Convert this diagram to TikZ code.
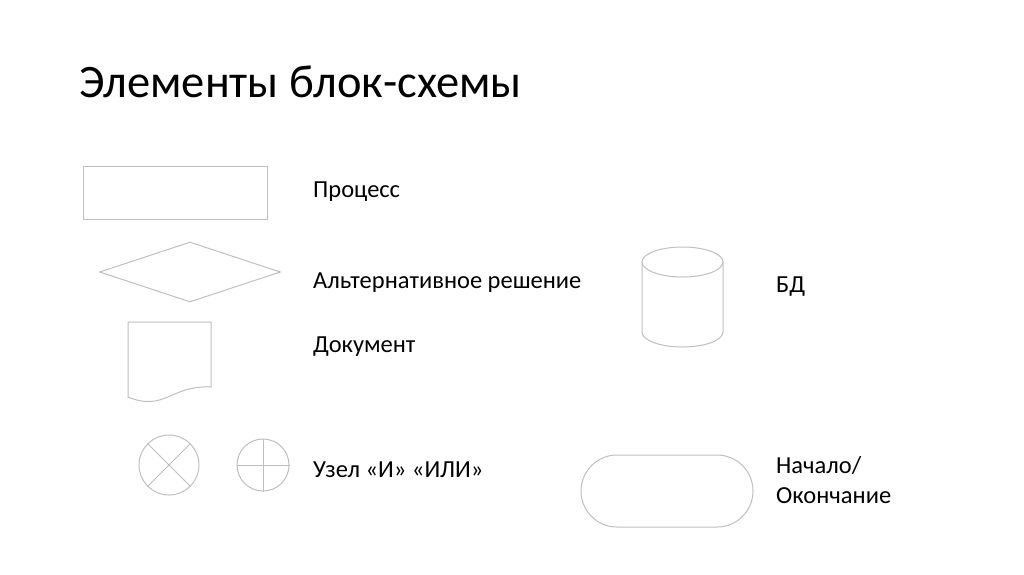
\documentclass[tikz,border=0pt]{standalone}
\usepackage{fontspec}
\setmainfont{Carlito}
\usetikzlibrary{shapes.geometric,shapes.misc}
\begin{document}
\begin{tikzpicture}[x=1pt,y=-1pt,
  shp/.style={draw=shapegrey,line width=1pt},
  lbl/.style={anchor=base west,inner sep=0pt,font=\fontsize{24.5}{30}\selectfont}]
\definecolor{shapegrey}{HTML}{BFBFBF}
\useasboundingbox (0,0) rectangle (1024,574);
\node [anchor=base west,inner sep=0pt,font=\fontsize{46.5}{56}\selectfont] (title) at (79,97) {Элементы блок-схемы};
% shapes
\node [shp,rectangle,minimum width=184,minimum height=53] (process) at (175,192.5) {};
\node [shp,diamond,aspect=3,inner sep=0pt,minimum width=181,minimum height=60] (decision) at (190,272) {};
\draw [shp] (128,398) -- (128,322) -- (211,322) -- (211,387) .. controls (170,385) and (165,412) .. (128,397);
\node [shp,circle,inner sep=0pt,minimum size=60] (andnode) at (169,465) {};
\draw [shp] (andnode.north west) -- (andnode.south east) (andnode.north east) -- (andnode.south west);
\node [shp,circle,inner sep=0pt,minimum size=52] (ornode) at (263,465) {};
\draw [shp] (ornode.north) -- (ornode.south) (ornode.west) -- (ornode.east);
\draw [shp] (642,262) -- (642,332) arc[start angle=180,end angle=360,x radius=40.5pt,y radius=15pt] -- (723,262);
\draw [shp] (682.5,262) ellipse[x radius=40.5pt,y radius=15pt];
\node [shp,rounded rectangle,inner sep=0pt,minimum width=172,minimum height=72] (terminal) at (667,491) {};
% labels
\foreach \nm/\xx/\yy/\txt in {proc/313/197/Процесс,alt/313/288/Альтернативное решение,doc/313/352/Документ,
  join/313/477/{Узел «И» «ИЛИ»},db/776/292/БД,start/776/473/{Начало/},stop/776/503/Окончание}
  {\node [lbl] (lbl\nm) at (\xx,\yy) {\txt};}
\end{tikzpicture}
\end{document}
